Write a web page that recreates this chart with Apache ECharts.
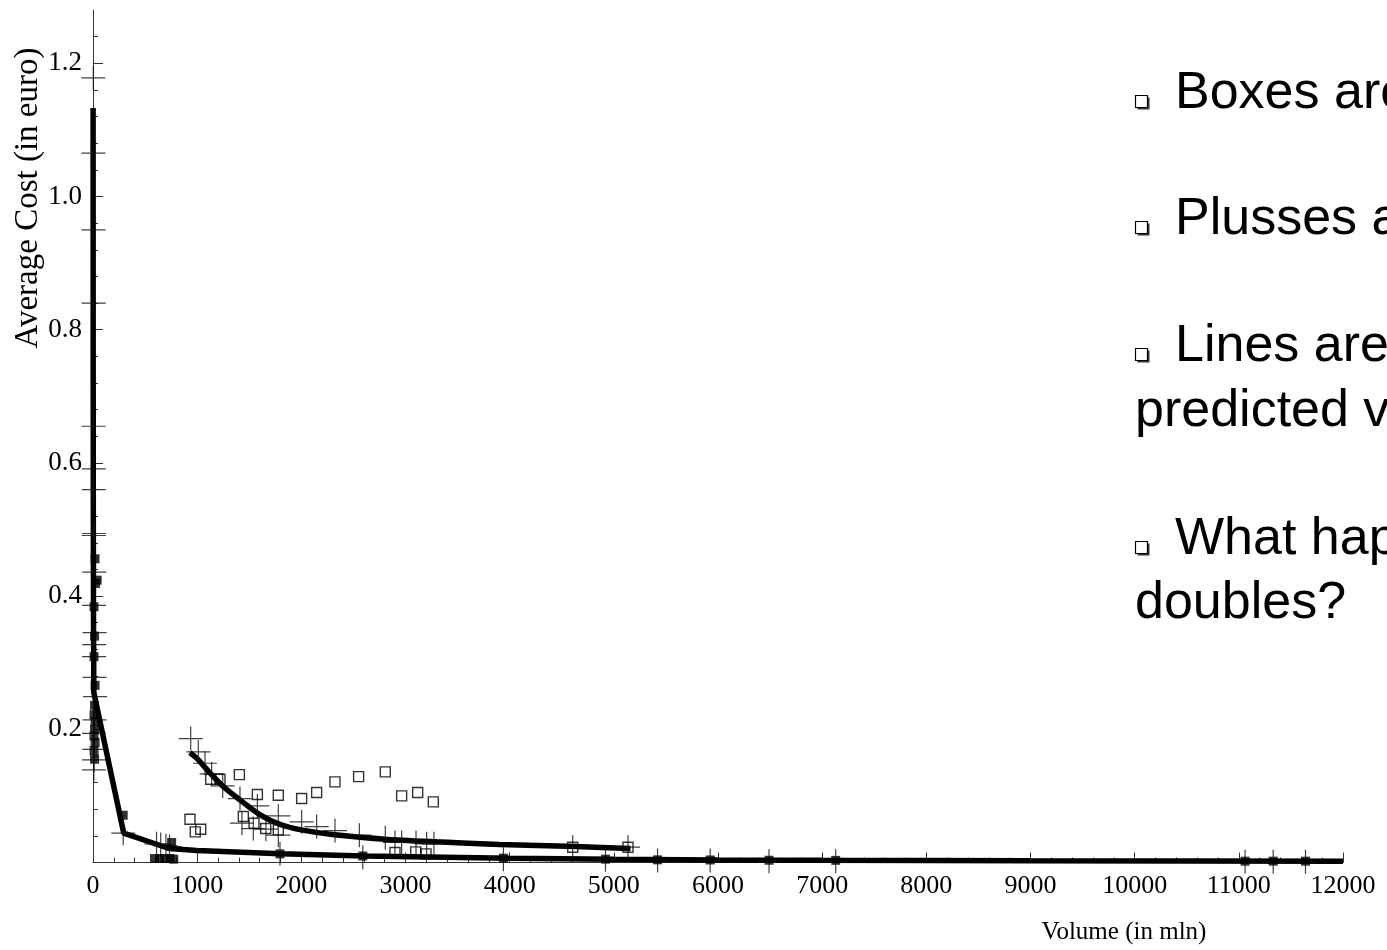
<!DOCTYPE html>
<html>
<head>
<meta charset="utf-8">
<title>Average cost vs volume</title>
<script src="https://cdn.jsdelivr.net/npm/echarts@6/dist/echarts.min.js"></script>
<style>
    html, body { margin: 0; padding: 0; background: #fff; }
    #chart { width: 1387px; height: 950px; }
</style>
</head>
<body>
<div id="chart"></div>
<script>
// axis ticks
const X_TICKS = [0, 1000, 2000, 3000, 4000, 5000, 6000, 7000, 8000, 9000, 10000, 11000, 12000];
const Y_TICKS = [0, 0.2, 0.4, 0.6, 0.8, 1.0, 1.2];

// predicted values (lines)
const predictedLow = [
    [1, 1.133], [2, 0.72], [3, 0.52], [5, 0.36], [8, 0.255], [295, 0.044], [730, 0.021],
    [1000, 0.018], [1800, 0.013], [2600, 0.0098], [4000, 0.0062], [5000, 0.0048],
    [6000, 0.0038], [7000, 0.0032], [9000, 0.0025], [12000, 0.002]
];
const predictedHigh = [
    [930, 0.165], [1000, 0.156], [1120, 0.135], [1250, 0.114], [1410, 0.094], [1600, 0.072],
    [1800, 0.057], [2000, 0.049], [2300, 0.042], [2800, 0.035], [3300, 0.031], [3900, 0.027],
    [4640, 0.024], [5160, 0.021]
];

// actual values
const filledBoxes = [
    [20, 0.456], [40, 0.424], [25, 0.419], [10, 0.384], [15, 0.340], [10, 0.309], [20, 0.266],
    [15, 0.236], [10, 0.222], [20, 0.212], [15, 0.200], [10, 0.190], [20, 0.180], [10, 0.168],
    [15, 0.155], [290, 0.071], [755, 0.030], [590, 0.006], [640, 0.006], [690, 0.006],
    [740, 0.006], [775, 0.005], [1795, 0.013], [2590, 0.0098], [3940, 0.0065], [4920, 0.005],
    [5420, 0.004], [5925, 0.0038], [6490, 0.0034], [7130, 0.0032], [11060, 0.002],
    [11330, 0.002], [11640, 0.002]
];
const openBoxes = [
    [931, 0.065], [982, 0.046], [1034, 0.050], [1130, 0.125], [1219, 0.125], [1405, 0.132],
    [1443, 0.069], [1546, 0.059], [1578, 0.102], [1658, 0.051], [1779, 0.101], [1779, 0.049],
    [2003, 0.096], [2147, 0.105], [2323, 0.121], [2550, 0.129], [2806, 0.136], [2963, 0.100],
    [3117, 0.105], [3267, 0.091], [2899, 0.015], [3098, 0.016], [3197, 0.013], [4605, 0.023],
    [5136, 0.023]
];
const plusses = [
    [3, 1.178], [5, 1.065], [4, 0.950], [6, 0.840], [5, 0.655], [8, 0.591], [6, 0.560],
    [10, 0.494], [8, 0.491], [12, 0.436], [10, 0.386], [15, 0.345], [12, 0.327], [10, 0.309],
    [15, 0.278], [20, 0.249], [15, 0.214], [10, 0.194], [12, 0.170], [10, 0.154], [8, 0.139],
    [290, 0.044], [610, 0.028], [650, 0.027], [700, 0.025], [735, 0.024],
    [938, 0.186], [1011, 0.166], [1075, 0.149], [1139, 0.133], [1245, 0.115], [1411, 0.096],
    [1578, 0.085], [1430, 0.059], [1539, 0.051], [1660, 0.050], [1779, 0.070], [1779, 0.041],
    [2003, 0.061], [2147, 0.054], [2323, 0.048], [2557, 0.041], [2806, 0.037], [2899, 0.030],
    [2963, 0.030], [3101, 0.030], [3203, 0.028], [3273, 0.028], [4605, 0.023], [5136, 0.023],
    [1795, 0.013], [2590, 0.008], [3940, 0.005], [4920, 0.004], [5420, 0.003], [5925, 0.003],
    [6490, 0.002], [7130, 0.002], [11060, 0.001], [11330, 0.001], [11640, 0.001]
];

// slide notes: [text, starts with bullet]
const NOTES = [
    ['Boxes are', true],
    ['Plusses are', true],
    ['Lines are', true],
    ['predicted values', false],
    ['What happens', true],
    ['doubles?', false]
];
const NOTE_BASELINES = [112, 238, 365, 430, 558, 622];

const PLUS_PATH = 'path://M22.8,0H25.2V22.8H48V25.2H25.2V48H22.8V25.2H0V22.8H22.8Z';
const SERIF = 'Liberation Serif';
const SANS = 'Liberation Sans';

function buildNotes() {
    const items = [];
    NOTES.forEach(([text, bullet], i) => {
        const base = NOTE_BASELINES[i];
        if (bullet) {
            items.push({
                type: 'rect',
                shape: { x: 1137.5, y: base - 14.5, width: 12, height: 12 },
                style: { fill: '#333' }
            });
            items.push({
                type: 'rect',
                shape: { x: 1135.5, y: base - 16.5, width: 12, height: 12 },
                style: { fill: '#fff', stroke: '#000', lineWidth: 1.2 }
            });
        }
        items.push({
            type: 'text',
            x: bullet ? 1175 : 1135,
            y: base - 18,
            style: {
                text: text,
                font: `52px "${SANS}"`,
                fill: '#000',
                align: 'left',
                verticalAlign: 'middle'
            }
        });
    });
    return items;
}

const chart = echarts.init(document.getElementById('chart'));
chart.setOption({
    animation: false,
    backgroundColor: '#fff',
    grid: { left: 93, right: 44, top: 10, bottom: 87.5 },
    xAxis: {
        type: 'value',
        min: X_TICKS[0],
        max: X_TICKS[X_TICKS.length - 1],
        interval: 1000,
        axisLine: { show: true, onZero: false, lineStyle: { color: '#333', width: 1 } },
        axisTick: { show: true, inside: true, length: 10, lineStyle: { color: '#333' } },
        minorTick: { show: true, splitNumber: 5, length: 5, lineStyle: { color: '#333' } },
        splitLine: { show: false },
        axisLabel: {
            color: '#000', fontFamily: SERIF, fontSize: 26, margin: 11,
            formatter: v => String(v)
        }
    },
    yAxis: {
        type: 'value',
        min: 0,
        max: 1.28,
        interval: 0.2,
        axisLine: { show: true, onZero: false, lineStyle: { color: '#333', width: 1 } },
        axisTick: {
            show: true, inside: true, length: 10,
            customValues: Y_TICKS,
            lineStyle: { color: '#333' }
        },
        minorTick: { show: true, splitNumber: 5, length: 5, lineStyle: { color: '#333' } },
        splitLine: { show: false },
        axisLabel: {
            color: '#000', fontFamily: SERIF, fontSize: 27, margin: 11,
            customValues: Y_TICKS.slice(1),
            formatter: v => v.toFixed(1)
        }
    },
    graphic: [
        {
            type: 'text',
            x: 28,
            y: 198,
            rotation: Math.PI / 2,
            style: {
                text: 'Average Cost (in euro)',
                font: `33px "${SERIF}"`,
                fill: '#000',
                align: 'center',
                verticalAlign: 'middle'
            }
        },
        {
            type: 'text',
            x: 1124,
            y: 932,
            style: {
                text: 'Volume (in mln)',
                font: `25px "${SERIF}"`,
                fill: '#000',
                align: 'center',
                verticalAlign: 'middle'
            }
        },
        ...buildNotes()
    ],
    series: [
        {
            name: 'Predicted (low)',
            type: 'line',
            data: predictedLow,
            showSymbol: false,
            lineStyle: { color: '#000', width: 5.5 },
            z: 2
        },
        {
            name: 'Predicted (high)',
            type: 'line',
            data: predictedHigh,
            smooth: 0.25,
            showSymbol: false,
            lineStyle: { color: '#000', width: 5.5 },
            z: 2
        },
        {
            name: 'Plusses',
            type: 'scatter',
            data: plusses,
            symbol: PLUS_PATH,
            symbolSize: 24,
            itemStyle: { color: '#111' },
            z: 3
        },
        {
            name: 'Boxes',
            type: 'scatter',
            data: openBoxes,
            symbol: 'rect',
            symbolSize: 10,
            itemStyle: { color: 'rgba(0,0,0,0)', borderColor: '#000', borderWidth: 1.4 },
            z: 4
        },
        {
            name: 'Filled boxes',
            type: 'scatter',
            data: filledBoxes,
            symbol: 'rect',
            symbolSize: 9,
            itemStyle: { color: '#000' },
            z: 4
        }
    ]
});
</script>
</body>
</html>
